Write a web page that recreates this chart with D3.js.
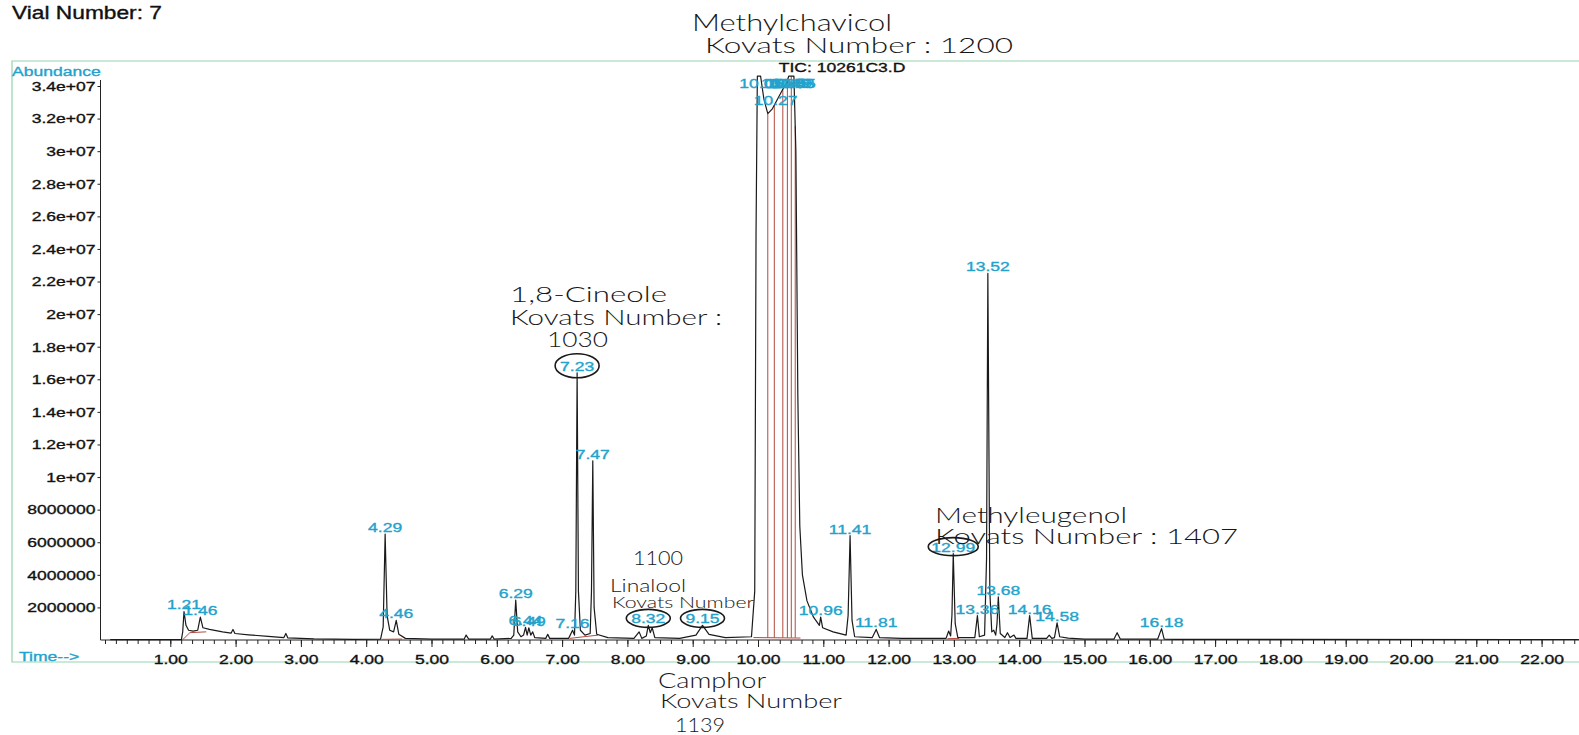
<!DOCTYPE html>
<html>
<head>
<meta charset="utf-8">
<script src="https://cdn.jsdelivr.net/npm/d3@7"></script>
<style>
body { margin: 0; background: #fff; }
svg { display: block; }
</style>
</head>
<body>
<script>
// retention time (min), abundance
const trace = [
    [0.08, 0.02e6], [1.17, 0.02e6], [1.19, 0.5e6], [1.21, 1.75e6], [1.24, 0.9e6], [1.28, 0.6e6],
    [1.35, 0.55e6], [1.42, 0.6e6], [1.46, 1.4e6], [1.5, 0.75e6], [1.6, 0.65e6], [1.8, 0.5e6],
    [1.93, 0.42e6], [1.96, 0.65e6], [1.99, 0.4e6], [2.2, 0.32e6], [2.5, 0.22e6], [2.74, 0.15e6],
    [2.77, 0.4e6], [2.8, 0.13e6], [3.2, 0.07e6], [3.8, 0.04e6], [4.22, 0.05e6], [4.26, 0.8e6],
    [4.29, 6.5e6], [4.32, 1.5e6], [4.36, 0.6e6], [4.42, 0.5e6], [4.46, 1.2e6], [4.5, 0.35e6],
    [4.6, 0.1e6], [5.0, 0.05e6], [5.5, 0.05e6], [5.53, 0.3e6], [5.57, 0.05e6], [5.9, 0.05e6],
    [5.93, 0.25e6], [5.96, 0.05e6], [6.22, 0.1e6], [6.26, 0.3e6], [6.29, 2.45e6], [6.32, 0.5e6],
    [6.37, 0.2e6], [6.41, 0.3e6], [6.44, 0.78e6], [6.465, 0.3e6], [6.49, 0.75e6], [6.52, 0.3e6],
    [6.55, 0.5e6], [6.58, 0.15e6], [6.75, 0.1e6], [6.78, 0.35e6], [6.81, 0.1e6], [7.1, 0.1e6],
    [7.16, 0.6e6], [7.19, 0.3e6], [7.21, 3e6], [7.23, 16.4e6], [7.25, 3e6], [7.28, 0.6e6],
    [7.35, 0.3e6], [7.43, 0.4e6], [7.45, 3e6], [7.47, 11.0e6], [7.49, 2e6], [7.53, 0.35e6],
    [7.7, 0.15e6], [8.1, 0.1e6], [8.18, 0.5e6], [8.22, 0.1e6], [8.29, 0.25e6], [8.32, 0.9e6],
    [8.35, 0.45e6], [8.38, 0.75e6], [8.42, 0.15e6], [8.8, 0.1e6], [9.05, 0.3e6], [9.15, 0.9e6],
    [9.25, 0.35e6], [9.5, 0.15e6], [9.9, 0.2e6], [9.95, 3e6], [9.97, 25e6], [9.99, 34.6e6],
    [10.04, 34.6e6], [10.09, 33.2e6], [10.15, 32.3e6], [10.22, 32.6e6], [10.3, 33.2e6],
    [10.38, 33.8e6], [10.44, 34.2e6], [10.47, 34.6e6], [10.55, 34.6e6], [10.58, 30e6],
    [10.61, 15e6], [10.64, 7e6], [10.68, 4e6], [10.75, 2.4e6], [10.85, 1.4e6], [10.94, 0.9e6],
    [10.96, 1.4e6], [10.99, 0.75e6], [11.15, 0.5e6], [11.35, 0.3e6], [11.38, 1.5e6],
    [11.41, 6.4e6], [11.44, 1.2e6], [11.48, 0.2e6], [11.75, 0.15e6], [11.81, 0.65e6],
    [11.86, 0.15e6], [12.2, 0.1e6], [12.88, 0.1e6], [12.92, 0.55e6], [12.95, 0.25e6],
    [12.97, 1.5e6], [12.99, 5.3e6], [13.02, 1.0e6], [13.06, 0.15e6], [13.32, 0.15e6],
    [13.36, 1.5e6], [13.39, 0.2e6], [13.47, 0.3e6], [13.5, 5e6], [13.52, 22.5e6], [13.55, 3e6],
    [13.58, 0.5e6], [13.61, 0.6e6], [13.64, 0.3e6], [13.66, 1.0e6], [13.68, 2.65e6],
    [13.71, 0.4e6], [13.78, 0.15e6], [13.82, 0.45e6], [13.86, 0.15e6], [13.92, 0.3e6],
    [13.95, 0.1e6], [14.12, 0.1e6], [14.16, 1.5e6], [14.2, 0.1e6], [14.42, 0.1e6],
    [14.46, 0.3e6], [14.5, 0.1e6], [14.54, 0.15e6], [14.58, 1.05e6], [14.62, 0.2e6],
    [14.75, 0.12e6], [15.0, 0.05e6], [15.45, 0.05e6], [15.5, 0.45e6], [15.55, 0.05e6],
    [16.12, 0.05e6], [16.18, 0.7e6], [16.22, 0.05e6], [16.4, 0.04e6], [22.57, 0.03e6]
];

const peakTimes = ["1.21", "1.46", "4.29", "4.46", "6.29", "6.44", "6.49", "7.16", "7.23", "7.47",
    "8.32", "9.15", "10.05", "10.27", "10.38", "10.45", "10.49", "10.53", "10.55", "10.96",
    "11.41", "11.81", "12.99", "13.36", "13.52", "13.68", "14.16", "14.58", "16.18"];
const peakTops = [1.75e6, 1.4e6, 6.5e6, 1.2e6, 2.45e6, 0.78e6, 0.75e6, 0.6e6, 16.4e6, 11.0e6,
    0.9e6, 0.9e6, 34.6e6, 32.7e6, 33.8e6, 34.2e6, 34.6e6, 34.6e6, 34.6e6, 1.4e6,
    6.4e6, 0.65e6, 5.3e6, 1.5e6, 22.5e6, 2.65e6, 1.5e6, 1.05e6, 0.7e6];

const dropTimes = [10.15, 10.25, 10.38, 10.45, 10.51, 10.57];
const baseSegments = [
    [[1.19, 0.02e6], [1.3, 0.45e6], [1.55, 0.5e6]],
    [[4.24, 0.04e6], [4.55, 0.06e6]],
    [[7.12, 0.1e6], [7.55, 0.3e6]],
    [[9.93, 0.15e6], [10.65, 0.12e6]],
    [[12.9, 0.08e6], [13.08, 0.1e6]]
];

const xTickLabels = ["1.00", "2.00", "3.00", "4.00", "5.00", "6.00", "7.00", "8.00", "9.00", "10.00",
    "11.00", "12.00", "13.00", "14.00", "15.00", "16.00", "17.00", "18.00", "19.00", "20.00",
    "21.00", "22.00"];
const yTickValues = [2e6, 4e6, 6e6, 8e6, 1e7, 1.2e7, 1.4e7, 1.6e7, 1.8e7, 2e7, 2.2e7, 2.4e7,
    2.6e7, 2.8e7, 3e7, 3.2e7, 3.4e7];
const yTickLabels = ["2000000", "4000000", "6000000", "8000000", "1e+07", "1.2e+07", "1.4e+07",
    "1.6e+07", "1.8e+07", "2e+07", "2.2e+07", "2.4e+07", "2.6e+07", "2.8e+07", "3e+07", "3.2e+07",
    "3.4e+07"];

// handwritten notes: text, x, baseline, width, size
const notes = [
    ["Methylchavicol", 692, 31, 200, 23],
    ["Kovats Number : 1200", 705, 53, 308, 22],
    ["1,8-Cineole", 510, 302, 157, 22],
    ["Kovats Number :", 510, 325, 212, 21],
    ["1030", 547, 347, 61, 21],
    ["1100", 633, 565, 50, 20],
    ["Linalool", 610, 592, 76, 17],
    ["Kovats Number", 612, 608, 142, 16],
    ["Methyleugenol", 935, 523, 192, 22],
    ["Kovats Number : 1407", 935, 544, 303, 22],
    ["Camphor", 658, 688, 108, 21],
    ["Kovats Number", 660, 708, 182, 20],
    ["1139", 675, 732, 50, 20]
];
const circled = ["7.23", "8.32", "9.15", "12.99"];

const cyan = "#22a2cc";
const red = "#b24b3e";
const ink = "#111";

let svg = d3.select("body").append("svg").attr("width", 1579).attr("height", 735);

let x = d3.scaleLinear().domain([0, 22]).range([105, 105 + 65.3 * 22]);
let y = d3.scaleLinear().domain([0, 3.4e7]).range([640, 86]);

function txt(g, px, py, s, size, anchor, fill) {
    return g.append("text")
        .attr("transform", `translate(${px},${py}) scale(1.3,1)`)
        .attr("text-anchor", anchor)
        .attr("font-family", "'Liberation Sans', Arial, sans-serif")
        .attr("font-size", size)
        .attr("fill", fill)
        .attr("stroke", fill)
        .attr("stroke-width", 0.35)
        .text(s);
}

function valueAt(t) {
    let i = d3.bisector((d) => d[0]).left(trace, t);
    let a = trace[i - 1], b = trace[i];
    return a[1] + ((b[1] - a[1]) * (t - a[0])) / (b[0] - a[0]);
}

// frame
svg.append("path")
    .attr("d", "M 1585 61 L 12 61 L 12 662 L 1585 662")
    .attr("fill", "none")
    .attr("stroke", "#95d3ad")
    .attr("stroke-width", 1.2);

txt(svg, 12, 19, "Vial Number: 7", 17.5, "start", ink);
txt(svg, 842, 72, "TIC: 10261C3.D", 13.5, "middle", ink);
txt(svg, 12, 76, "Abundance", 13.5, "start", cyan);
txt(svg, 19, 661, "Time-->", 13.5, "start", cyan);

// y axis
let yAxis = svg.append("g")
    .attr("transform", "translate(100.5,0)")
    .call(d3.axisLeft(y).tickValues(yTickValues).tickSize(3).tickPadding(2)
        .tickFormat((d, i) => yTickLabels[i]));
yAxis.select(".domain").remove();
yAxis.selectAll("line").attr("stroke", "#222");
yAxis.selectAll("text")
    .attr("font-family", "'Liberation Sans', Arial, sans-serif")
    .attr("font-size", 13.5)
    .attr("fill", ink)
    .attr("stroke", ink)
    .attr("stroke-width", 0.35)
    .attr("transform", "scale(1.3,1)")
    .attr("x", -5 / 1.3);
svg.append("line")
    .attr("x1", 100.5).attr("x2", 100.5)
    .attr("y1", 80).attr("y2", y(0))
    .attr("stroke", "#222");

// x axis
let minorTimes = d3.range(0, 22.6, 1 / 6);
let xMinor = svg.append("g")
    .attr("transform", `translate(0,${y(0)})`)
    .call(d3.axisBottom(x).tickValues(minorTimes).tickSize(4).tickFormat(""));
xMinor.select(".domain").remove();
xMinor.selectAll("line").attr("stroke", "#222");

let xMajor = svg.append("g")
    .attr("transform", `translate(0,${y(0)})`)
    .call(d3.axisBottom(x).tickValues(d3.range(1, 23)).tickSize(7).tickPadding(7)
        .tickFormat((d, i) => xTickLabels[i]));
xMajor.select(".domain").remove();
xMajor.selectAll("line").attr("stroke", "#222");
xMajor.selectAll("text")
    .attr("font-family", "'Liberation Sans', Arial, sans-serif")
    .attr("font-size", 13.5)
    .attr("fill", ink)
    .attr("stroke", ink)
    .attr("stroke-width", 0.35)
    .attr("transform", "scale(1.3,1)");

svg.append("line")
    .attr("x1", 100.5).attr("x2", 1579)
    .attr("y1", y(0)).attr("y2", y(0))
    .attr("stroke", "#222");

// integration marks
baseSegments.forEach((seg) => {
    svg.append("path")
        .attr("d", d3.line().x((d) => x(d[0])).y((d) => y(d[1]))(seg))
        .attr("fill", "none")
        .attr("stroke", red)
        .attr("stroke-width", 1);
});
dropTimes.forEach((t) => {
    svg.append("line")
        .attr("x1", x(t)).attr("x2", x(t))
        .attr("y1", y(0.14e6)).attr("y2", y(valueAt(t)))
        .attr("stroke", red)
        .attr("stroke-width", 1);
});

// chromatogram
svg.append("path")
    .attr("d", d3.line().x((d) => x(d[0])).y((d) => y(d[1]))(trace))
    .attr("fill", "none")
    .attr("stroke", "#1a1a1a")
    .attr("stroke-width", 1.2)
    .attr("stroke-linejoin", "round");

// peak labels
let labelPos = {};
peakTimes.forEach((t, i) => {
    let py = Math.max(y(peakTops[i]) - 2, y(3.4e7) + 2);
    labelPos[t] = [x(+t), py];
    txt(svg, x(+t), py, t, 13.5, "middle", cyan);
});

// handwriting
notes.forEach(([s, nx, ny, w, size]) => {
    svg.append("text")
        .attr("x", nx)
        .attr("y", ny)
        .attr("font-family", "Lato, 'Open Sans', sans-serif")
        .attr("font-weight", 300)
        .attr("font-size", size)
        .attr("textLength", w)
        .attr("lengthAdjust", "spacingAndGlyphs")
        .attr("fill", "#161616")
        .text(s);
});

circled.forEach((t) => {
    let [cx, cy] = labelPos[t];
    svg.append("ellipse")
        .attr("cx", cx)
        .attr("cy", cy - 5)
        .attr("rx", t.length > 4 ? 25 : 22)
        .attr("ry", t === "7.23" ? 12 : 9)
        .attr("fill", "none")
        .attr("stroke", "#1a1a1a")
        .attr("stroke-width", 1.6);
});
</script>
</body>
</html>
